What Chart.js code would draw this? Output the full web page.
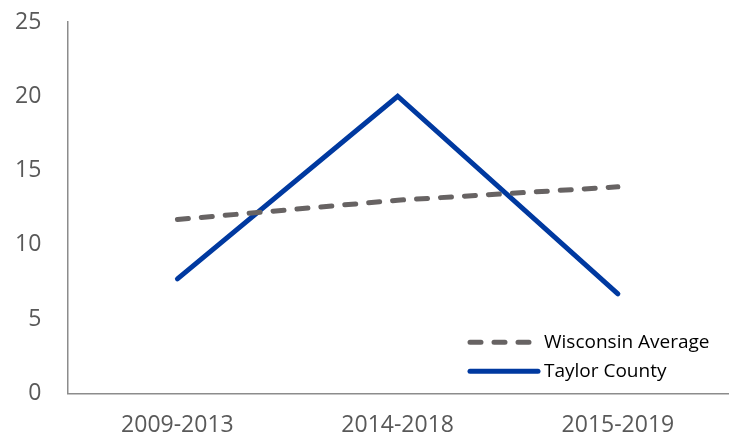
<!DOCTYPE html>
<html lang="en">
<head>
    <meta charset="UTF-8">
    <title>Taylor County vs Wisconsin Average</title>
    <script src="https://cdn.jsdelivr.net/npm/chart.js"></script>
    <style>
        html, body { margin: 0; padding: 0; background: #fff; }
        .wrap { width: 733px; height: 436px; }
    </style>
</head>
<body>
    <div class="wrap">
        <canvas id="myChart" width="733" height="436"></canvas>
    </div>

    <script>
        const periods = ['2009-2013', '2014-2018', '2015-2019'];
        const wisconsinAvg = [11.7, 13.0, 13.9];
        const taylorCounty = [7.7, 20.0, 6.7];
        const yTicks = [0, 5, 10, 15, 20, 25];

        // legend drawn inside the plot, bottom right, like the original
        const cornerLegend = {
            id: 'cornerLegend',
            afterDraw(chart) {
                const ctx = chart.ctx;
                const area = chart.chartArea;
                const x0 = area.right - 261;
                const rows = [area.bottom - 51, area.bottom - 22];
                ctx.save();
                ctx.font = '19px "Open Sans"';
                ctx.textBaseline = 'middle';
                ctx.fillStyle = '#000';
                chart.data.datasets.forEach((ds, i) => {
                    const y = rows[i];
                    ctx.beginPath();
                    ctx.lineWidth = ds.borderWidth;
                    ctx.strokeStyle = ds.borderColor;
                    ctx.lineCap = ds.borderCapStyle || 'butt';
                    ctx.setLineDash(ds.borderDash || []);
                    ctx.moveTo(x0 + 3, y);
                    ctx.lineTo(x0 + 71, y);
                    ctx.stroke();
                    ctx.setLineDash([]);
                    ctx.fillText(ds.label, x0 + 77, y);
                });
                ctx.restore();
            }
        };

        const tickFont = { family: '"Open Sans"', size: 23, lineHeight: 0.9 };

        const ctx = document.getElementById('myChart').getContext('2d');
        new Chart(ctx, {
            type: 'line',
            data: {
                labels: periods,
                datasets: [{
                    label: 'Wisconsin Average',
                    data: wisconsinAvg,
                    borderColor: '#676363',
                    borderWidth: 5,
                    borderDash: [11, 13],
                    borderCapStyle: 'round',
                    pointRadius: 0,
                    fill: false,
                    tension: 0
                }, {
                    label: 'Taylor County',
                    data: taylorCounty,
                    borderColor: '#0039A0',
                    borderWidth: 5,
                    borderCapStyle: 'round',
                    borderJoinStyle: 'miter',
                    pointRadius: 0,
                    fill: false,
                    tension: 0
                }]
            },
            options: {
                responsive: false,
                animation: false,
                layout: {
                    padding: { left: 15, right: 5, top: 22, bottom: 0 }
                },
                scales: {
                    x: {
                        offset: true,
                        grid: {
                            display: true,
                            drawOnChartArea: false,
                            drawTicks: true,
                            tickLength: 22,
                            tickColor: 'rgba(0,0,0,0)'
                        },
                        border: { display: true, color: '#8c8c8c', width: 1.5 },
                        ticks: {
                            padding: 0,
                            color: '#595959',
                            font: tickFont
                        }
                    },
                    y: {
                        min: 0,
                        max: 25,
                        afterBuildTicks: (axis) => {
                            axis.ticks = yTicks.map(v => ({ value: v }));
                        },
                        grid: {
                            display: true,
                            drawOnChartArea: false,
                            drawTicks: true,
                            tickLength: 26,
                            tickColor: 'rgba(0,0,0,0)'
                        },
                        border: { display: true, color: '#8c8c8c', width: 1.5 },
                        ticks: {
                            padding: 0,
                            color: '#595959',
                            font: { family: '"Open Sans"', size: 23 }
                        }
                    }
                },
                plugins: {
                    legend: { display: false },
                    tooltip: { enabled: false }
                }
            },
            plugins: [cornerLegend]
        });
    </script>
</body>
</html>
